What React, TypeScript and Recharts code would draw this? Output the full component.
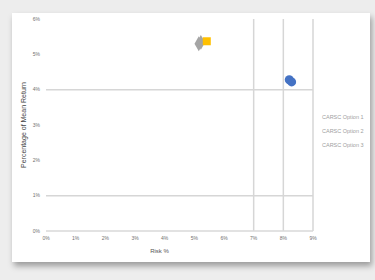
import React from 'react';
import {
  ScatterChart,
  Scatter,
  XAxis,
  YAxis,
  ZAxis,
  Legend,
  ReferenceLine,
} from 'recharts';

const xTicks = [0, 1, 2, 3, 4, 5, 6, 7, 8, 9];
const yTicks = [0, 1, 2, 3, 4, 5, 6];
const xGuides = [7, 8, 9];
const yGuides = [1, 4];

const option1 = [
  { risk: 8.2, ret: 4.28 },
  { risk: 8.28, ret: 4.22 },
];
const option2 = [
  { risk: 5.15, ret: 5.3 },
  { risk: 5.22, ret: 5.34 },
];
const option3 = [{ risk: 5.42, ret: 5.37 }];

const seriesNames = ['CARSC Option 1', 'CARSC Option 2', 'CARSC Option 3'];
const colors = ['#4472c4', '#a5a5a5', '#ffc000'];

const font = '"Liberation Sans", Arial, sans-serif';

const LegendText = () => (
  <div style={{ paddingLeft: 9, fontFamily: font, fontSize: 5.5, color: '#a0a0a0' }}>
    {seriesNames.map((n) => (
      <div key={n} style={{ height: 14, lineHeight: '14px', whiteSpace: 'nowrap' }}>
        {n}
      </div>
    ))}
  </div>
);

export default function App() {
  return (
    <div style={{ position: 'fixed', left: 0, top: 0, width: 375, height: 280, background: '#ededed' }}>
      <div
        style={{
          position: 'absolute',
          left: 12,
          top: 13,
          width: 358,
          height: 249,
          background: '#ffffff',
          boxShadow: '2px 4px 6px rgba(0,0,0,0.35)',
        }}
      >
        <ScatterChart width={358} height={249} margin={{ top: 6, right: 7, bottom: 5, left: 0 }}>
          <XAxis
            type="number"
            dataKey="risk"
            domain={[0, 9]}
            ticks={xTicks}
            tickFormatter={(v) => `${v}%`}
            tickLine={false}
            tickSize={5}
            tickMargin={0}
            height={26}
            stroke="#d9d9d9"
            strokeWidth={1.5}
            tick={{ fill: '#707070', fontSize: 5, fontFamily: font }}
            label={{
              value: 'Risk %',
              position: 'insideBottom',
              offset: 4,
              dx: -20,
              fill: '#555',
              fontSize: 6,
              fontFamily: font,
            }}
          />
          <YAxis
            type="number"
            dataKey="ret"
            domain={[0, 6]}
            ticks={yTicks}
            tickFormatter={(v) => `${v}%`}
            axisLine={false}
            tickLine={false}
            tickSize={5}
            tickMargin={1}
            width={34}
            tick={{ fill: '#707070', fontSize: 5, fontFamily: font }}
            label={{
              value: 'Percentage of Mean Return',
              angle: -90,
              position: 'insideLeft',
              offset: 12,
              fill: '#444',
              fontSize: 7,
              fontFamily: font,
              style: { textAnchor: 'middle' },
            }}
          />
          <ZAxis range={[28, 28]} />
          {yGuides.map((y) => (
            <ReferenceLine key={`y${y}`} y={y} stroke="#d6d6d6" strokeWidth={1.5} />
          ))}
          {xGuides.map((x) => (
            <ReferenceLine key={`x${x}`} x={x} stroke="#d6d6d6" strokeWidth={1.5} />
          ))}
          <Legend
            layout="vertical"
            align="right"
            verticalAlign="top"
            wrapperStyle={{ top: 97, right: 7, width: 50 }}
            content={<LegendText />}
          />
          <Scatter name={seriesNames[0]} data={option1} fill={colors[0]} shape="circle" isAnimationActive={false} />
          <Scatter name={seriesNames[1]} data={option2} fill={colors[1]} shape="diamond" isAnimationActive={false} />
          <Scatter name={seriesNames[2]} data={option3} fill={colors[2]} shape="square" isAnimationActive={false} />
        </ScatterChart>
      </div>
    </div>
  );
}
